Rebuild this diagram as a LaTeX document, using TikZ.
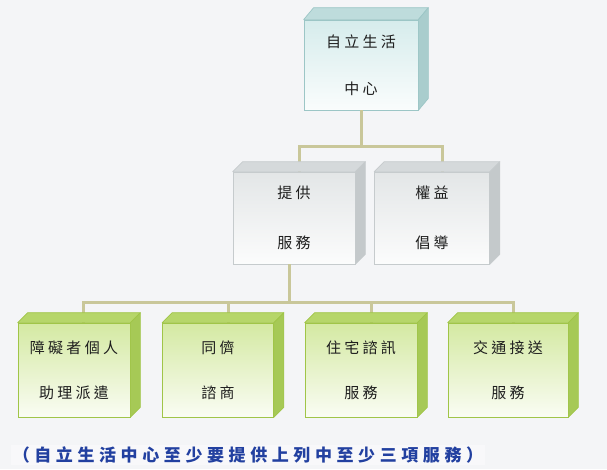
\documentclass[tikz,border=0pt]{standalone}
\usepackage{fontspec}
\usetikzlibrary{calc}
\newfontfamily\cjk{Noto Sans CJK TC}[LetterSpace=22]
\newfontfamily\cjkcap{Noto Sans CJK TC}[LetterSpace=27]
\definecolor{bgc}{HTML}{F4F5F7}
\definecolor{connc}{HTML}{C9C79A}
\definecolor{txtc}{HTML}{1E1E1E}
\definecolor{capc}{HTML}{2240A0}
% cyan
\definecolor{cyfront}{HTML}{D6ECEC}
\definecolor{cytop}{HTML}{BEDCDC}
\definecolor{cyside}{HTML}{A9CDCD}
\definecolor{cyedge}{HTML}{9CC6C6}
% gray
\definecolor{gyfront}{HTML}{E3E6E7}
\definecolor{gytop}{HTML}{D5D9DB}
\definecolor{gyside}{HTML}{C4C9CB}
\definecolor{gyedge}{HTML}{C6CBCD}
% green
\definecolor{grfront}{HTML}{D4E9A2}
\definecolor{grtop}{HTML}{B6D66A}
\definecolor{grside}{HTML}{A6C956}
\definecolor{gredge}{HTML}{A0C548}
\newcommand\cubefaces[5]{%
  \filldraw[fill=#2, draw=#4, line width=0.7pt, line join=round]
    (#1.north west) -- ++(10,-#5) -- ($(#1.north east)+(10,-#5)$) -- (#1.north east) -- cycle;
  \filldraw[fill=#3, draw=#4, line width=0.7pt, line join=round]
    (#1.north east) -- ($(#1.north east)+(10,-#5)$) -- ($(#1.south east)+(10,-#5)$) -- (#1.south east) -- cycle;
}
\begin{document}
\begin{tikzpicture}[x=1pt,y=-1pt,
  conn/.style={draw=connc, line width=3pt, line join=miter},
  front/.style n args={4}{draw=#3, line width=0.7pt, top color=#2, bottom color=#2!12!white,
     minimum width=#1, minimum height=#4, inner sep=0pt, align=center, text=txtc},
  txt/.style={font=\cjk\fontsize{15}{#1}\selectfont}
]
\fill[bgc] (0,0) rectangle (607,469);
\useasboundingbox (0,0) rectangle (607,469);

% front faces
\node[front={114pt}{cyfront}{cyedge}{90pt}, txt=47] (top) at (361,65) {自立生活\\中心};
\node[front={122pt}{gyfront}{gyedge}{92pt}, txt=50] (serv) at (294,218) {提供\\服務};
\node[front={115pt}{gyfront}{gyedge}{92pt}, txt=50] (rights) at (432,218) {權益\\倡導};
\node[front={112pt}{grfront}{gredge}{94pt}, txt=45] (b1) at (74,370) {障礙者個人\\助理派遣};
\node[front={111pt}{grfront}{gredge}{94pt}, txt=45] (b2) at (218,370) {同儕\\諮商};
\node[front={112pt}{grfront}{gredge}{94pt}, txt=45] (b3) at (361,370) {住宅諮訊\\服務};
\node[front={120pt}{grfront}{gredge}{94pt}, txt=45] (b4) at (508,370) {交通接送\\服務};

% connectors
\draw[conn] (top.south) -- ++(0,36) coordinate (j1);
\draw[conn] ($(serv.north)+(5,0)$) |- (j1) -| ($(rights.north)+(10,0)$);
\draw[conn] ($(serv.south)+(-5,0)$) -- ++(0,38) coordinate (j2);
\draw[conn] ($(b1.north)+(9,0)$) |- (j2) -| ($(b4.north)+(5,0)$);
\draw[conn] ($(b2.north)+(10,0)$) |- (j2);
\draw[conn] ($(b3.north)+(10,0)$) |- (j2);

% 3D faces
\cubefaces{top}{cytop}{cyside}{cyedge}{12}
\cubefaces{serv}{gytop}{gyside}{gyedge}{10}
\cubefaces{rights}{gytop}{gyside}{gyedge}{10}
\cubefaces{b1}{grtop}{grside}{gredge}{10}
\cubefaces{b2}{grtop}{grside}{gredge}{10}
\cubefaces{b3}{grtop}{grside}{gredge}{10}
\cubefaces{b4}{grtop}{grside}{gredge}{10}

% caption
\node[font=\cjkcap\bfseries\fontsize{17}{17}\selectfont, text=capc, fill=white!35!bgc, inner sep=1.5pt] (cap) at (248,455)
  {（自立生活中心至少要提供上列中至少三項服務）};
\end{tikzpicture}
\end{document}
